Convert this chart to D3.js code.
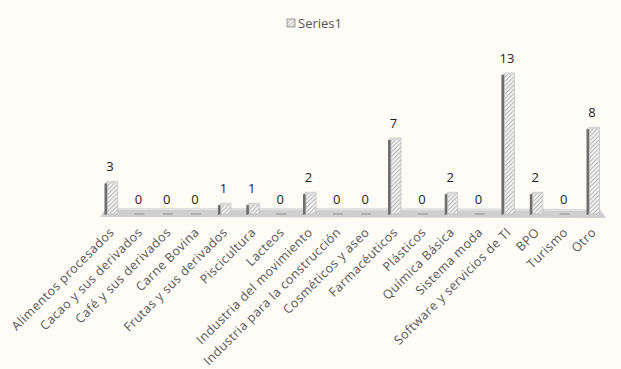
<!DOCTYPE html>
<html><head><meta charset="utf-8">
<script src="https://cdn.jsdelivr.net/npm/d3@7"></script>
<style>body{margin:0;background:#fffcf8;} svg{display:block;}</style>
</head><body>
<svg id="c" width="621" height="369"></svg>
<script>
const categories = ["Alimentos procesados","Cacao y sus derivados","Café y sus derivados","Carne Bovina","Frutas y sus derivados","Piscicultura","Lacteos","Industria del movimiento","Industria para la construcción","Cosméticos y aseo","Farmacéuticos","Plásticos","Química Básica","Sistema moda","Software y servicios de TI","BPO","Turismo","Otro"];
const values = [3,0,0,0,1,1,0,2,0,0,7,0,2,0,13,2,0,8];
const seriesName = "Series1";

const svg = d3.select("#c");
svg.append("rect").attr("width",621).attr("height",369).attr("fill","#fffcf8");
const defs = svg.append("defs");
const pat = defs.append("pattern").attr("id","hatch").attr("patternUnits","userSpaceOnUse")
  .attr("width",3).attr("height",3).attr("patternTransform","rotate(45)");
pat.append("rect").attr("width",3).attr("height",3).attr("fill","#f2f2f2");
pat.append("rect").attr("width",1.1).attr("height",3).attr("fill","#bdbdbd");

const x = d3.scalePoint().domain(categories).range([111,593]);
const base = 214;
const y = d3.scaleLinear().domain([0,13]).range([base,73]);

// floor
svg.append("path").attr("d","M106,208 L600,209 L606,218 L100,217 Z").attr("fill","#cfcfcf");
svg.append("path").attr("d","M106,208 L600,209 L601,211 L105,210 Z").attr("fill","#e0e0e0");

const g = svg.append("g");
const bw = 10, side = 3, depth = 2;
values.forEach((v,i)=>{
  const cx = x(categories[i]);
  const x0 = cx - bw/2 + side/2;
  if (v>0){
    const top = y(v);
    g.append("path").attr("d",`M${x0-side},${top+depth} L${x0},${top} L${x0},${base} L${x0-side},${base+1} Z`).attr("fill","#6e6e6e");
    g.append("rect").attr("x",x0).attr("y",top).attr("width",bw).attr("height",base-top).attr("fill","url(#hatch)").attr("stroke","#c4c4c4").attr("stroke-width",0.8);
    g.append("path").attr("d",`M${x0-side},${top+depth} L${x0},${top} L${x0+bw},${top} L${x0+bw-side},${top+depth} Z`).attr("fill","#d8d8d8");
  } else {
    g.append("rect").attr("x",cx-5).attr("y",base-1).attr("width",10).attr("height",2).attr("fill","#b0b0b0");
  }
  g.append("text").attr("x",cx-1).attr("y",y(v)-10).attr("text-anchor","middle")
    .attr("font-family","Open Sans, sans-serif").attr("font-size",13).attr("fill","#222").text(v);
});

const lab = svg.append("g");
categories.forEach((c,i)=>{
  const cx = x(c)+4, cy = 233;
  lab.append("text").attr("transform",`translate(${cx},${cy}) rotate(-45)`).attr("text-anchor","end")
    .attr("font-family","Open Sans, sans-serif").attr("font-size",12.5).attr("letter-spacing",0.5).attr("fill","#555").text(c);
});

svg.append("rect").attr("x",287).attr("y",19).attr("width",8).attr("height",8).attr("fill","url(#hatch)").attr("stroke","#888").attr("stroke-width",0.8);
svg.append("text").attr("x",298).attr("y",28).attr("font-family","Open Sans, sans-serif").attr("font-size",13).attr("fill","#555").text(seriesName);
</script>
</body></html>
